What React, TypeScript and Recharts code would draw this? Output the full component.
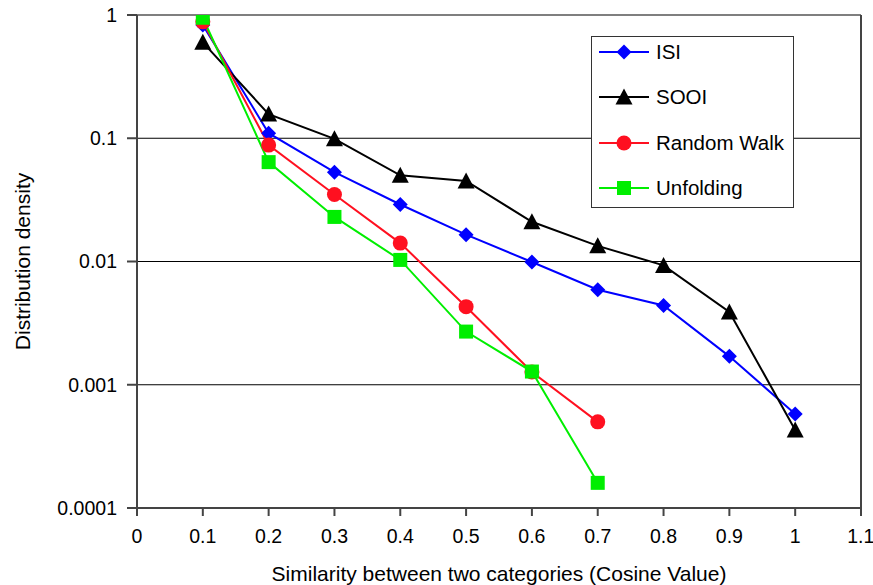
import React from "react";
import {
  CartesianGrid,
  Label,
  Line,
  LineChart,
  ReferenceLine,
  XAxis,
  YAxis,
} from "recharts";

const xValues = [0.1, 0.2, 0.3, 0.4, 0.5, 0.6, 0.7, 0.8, 0.9, 1.0];
const isi = [0.83, 0.11, 0.053, 0.029, 0.0165, 0.0099, 0.0059, 0.0044, 0.0017, 0.00058];
const sooi = [0.6, 0.157, 0.099, 0.05, 0.045, 0.021, 0.0134, 0.0093, 0.0039, 0.00043];
const randomWalk = [0.88, 0.088, 0.035, 0.0141, 0.0043, 0.00127, 0.0005];
const unfolding = [0.95, 0.064, 0.023, 0.0103, 0.0027, 0.00128, 0.00016];

const xTicks = [0, 0.1, 0.2, 0.3, 0.4, 0.5, 0.6, 0.7, 0.8, 0.9, 1, 1.1];
const yTicks = [0.0001, 0.001, 0.01, 0.1, 1];
const yTickLabels = ["0.0001", "0.001", "0.01", "0.1", "1"];

const data = xValues.map((x, i) => ({
  x,
  isi: isi[i],
  sooi: sooi[i],
  randomWalk: randomWalk[i],
  unfolding: unfolding[i],
}));

const FONT = "'Liberation Sans', Arial, sans-serif";

type Shape = "diamond" | "triangle" | "circle" | "square";

function marker(shape: Shape, cx: number, cy: number, color: string, key?: string) {
  if (shape === "diamond") {
    const r = 7.5;
    return (
      <polygon
        key={key}
        points={`${cx},${cy - r} ${cx + r},${cy} ${cx},${cy + r} ${cx - r},${cy}`}
        fill={color}
      />
    );
  }
  if (shape === "triangle") {
    const h = 15;
    const w = 17;
    return (
      <polygon
        key={key}
        points={`${cx},${cy - h / 2 - 1} ${cx + w / 2},${cy + h / 2} ${cx - w / 2},${cy + h / 2}`}
        fill={color}
      />
    );
  }
  if (shape === "circle") {
    return <circle key={key} cx={cx} cy={cy} r={7.5} fill={color} />;
  }
  return <rect key={key} x={cx - 7} y={cy - 7} width={14} height={14} fill={color} />;
}

const seriesList: { key: string; name: string; color: string; shape: Shape }[] = [
  { key: "isi", name: "ISI", color: "#0000ff", shape: "diamond" },
  { key: "sooi", name: "SOOI", color: "#000000", shape: "triangle" },
  { key: "randomWalk", name: "Random Walk", color: "#ff1020", shape: "circle" },
  { key: "unfolding", name: "Unfolding", color: "#00ee00", shape: "square" },
];

// legend box drawn over the plot, rows spaced like the original
function LegendBox() {
  return (
    <div
      style={{
        position: "absolute",
        left: 591,
        top: 36,
        border: "1.5px solid #333",
        background: "#fff",
        width: 203,
        height: 172,
        boxSizing: "border-box",
        fontFamily: FONT,
      }}
    >
      {seriesList.map((s, i) => (
        <div
          key={s.key}
          style={{
            position: "absolute",
            left: 0,
            top: 15 + i * 45.3 - 14,
            height: 28,
            display: "flex",
            alignItems: "center",
          }}
        >
          <svg width={64} height={20}>
            <line x1={7} y1={10} x2={57} y2={10} stroke={s.color} strokeWidth={2} />
            {marker(s.shape, 32, 10, s.color)}
          </svg>
          <span style={{ fontSize: 20.5, color: "#000", whiteSpace: "nowrap" }}>{s.name}</span>
        </div>
      ))}
    </div>
  );
}

export default function App() {
  return (
    <div style={{ position: "absolute", left: 0, top: 0, width: 873, height: 585, background: "#fff" }}>
      <LineChart width={873} height={585} data={data} margin={{ top: 15, right: 12, bottom: 0, left: 0 }}>
        <CartesianGrid horizontal vertical={false} stroke="#000" strokeWidth={1.2} />
        <XAxis
          dataKey="x"
          type="number"
          domain={[0, 1.1]}
          ticks={xTicks}
          height={77}
          stroke="#444"
          strokeWidth={2}
          tickSize={8}
          tickMargin={13}
          tick={{ fill: "#000", fontSize: 19.5, fontFamily: FONT }}
          tickFormatter={(v: number) => String(Math.round(v * 10) / 10)}
        >
          <Label
            value="Similarity between two categories (Cosine Value)"
            position="insideBottom"
            offset={4}
            style={{ fill: "#000", fontSize: 21, fontFamily: FONT }}
          />
        </XAxis>
        <YAxis
          scale="log"
          domain={[0.0001, 1]}
          ticks={yTicks}
          allowDataOverflow
          width={137}
          stroke="#444"
          strokeWidth={2}
          tickSize={10}
          tickMargin={10}
          tick={{ fill: "#000", fontSize: 19.5, fontFamily: FONT }}
          tickFormatter={(v: number) => yTickLabels[yTicks.indexOf(v)] ?? String(v)}
        >
          <Label
            content={(props: any) => {
              const vb = props.viewBox || {};
              const cx = 22;
              const cy = vb.y + vb.height / 2;
              return (
                <text
                  x={cx}
                  y={cy}
                  transform={`rotate(-90 ${cx} ${cy})`}
                  textAnchor="middle"
                  dominantBaseline="central"
                  style={{ fill: "#000", fontSize: 21, fontFamily: FONT }}
                >
                  Distribution density
                </text>
              );
            }}
          />
        </YAxis>
        <ReferenceLine x={1.1} stroke="#444" strokeWidth={2} />
        {seriesList.map((s) => (
          <Line
            key={s.key}
            dataKey={s.key}
            name={s.name}
            stroke={s.color}
            strokeWidth={2}
            isAnimationActive={false}
            connectNulls={false}
            dot={(p: any) =>
              p.cy == null || p.value == null ? (
                <g key={`${s.key}-${p.index}`} />
              ) : (
                marker(s.shape, p.cx, p.cy, s.color, `${s.key}-${p.index}`)
              )
            }
            activeDot={false}
          />
        ))}
      </LineChart>
      <LegendBox />
    </div>
  );
}
